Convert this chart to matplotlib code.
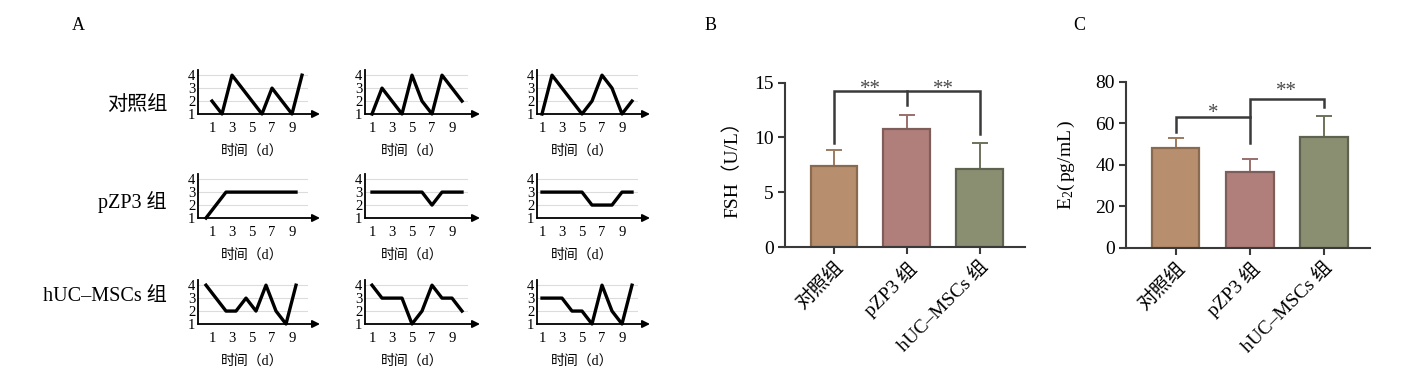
"""
Estrous cycle traces (A) and serum FSH / E2 bars (B, C).
"""

import numpy as np
import matplotlib
matplotlib.use("Agg")
import matplotlib.pyplot as plt
import matplotlib.transforms as mtransforms

plt.rcParams["font.family"] = ["Liberation Serif", "Noto Sans CJK SC"]
plt.rcParams["mathtext.fontset"] = "custom"
plt.rcParams["mathtext.rm"] = "Liberation Serif"
plt.rcParams["mathtext.it"] = "Liberation Serif:italic"

# ---------------------------------------------------------------------------
# Data
# ---------------------------------------------------------------------------

GROUPS = ["对照组", "pZP3 组", "hUC–MSCs 组"]

# cycle stage per day, three animals per group
CYCLE_CONTROL = [[2, 1, 4, 3, 2, 1, 3, 2, 1, 4],
                 [1, 3, 2, 1, 4, 2, 1, 4, 3, 2],
                 [1, 4, 3, 2, 1, 2, 4, 3, 1, 2]]
CYCLE_PZP3 = [[1, 2, 3, 3, 3, 3, 3, 3, 3, 3],
              [3, 3, 3, 3, 3, 3, 2, 3, 3, 3],
              [3, 3, 3, 3, 3, 2, 2, 2, 3, 3]]
CYCLE_HUC = [[4, 3, 2, 2, 3, 2, 4, 2, 1, 4],
             [4, 3, 3, 3, 1, 2, 4, 3, 3, 2],
             [3, 3, 3, 2, 2, 1, 4, 2, 1, 4]]
FIRST_DAY = [[1, 1, 1], [0.4, 1, 1], [0.4, 1, 1]]
DAY_TICKS = [1, 3, 5, 7, 9]
STAGE_TICKS = [1, 2, 3, 4]

FSH_MEAN = [7.4, 10.8, 7.1]
FSH_SD = [1.45, 1.25, 2.4]
E2_MEAN = [47.9, 36.3, 53.5]
E2_SD = [4.8, 6.3, 10.0]

# ---------------------------------------------------------------------------
# Style
# ---------------------------------------------------------------------------

FILL = ["#B78F6E", "#B07F7B", "#8B8F72"]
EDGE = ["#8A6A4E", "#7D5E5B", "#5E634F"]
ERRC = ["#9C7A5E", "#98706C", "#6D725C"]
DARK = "#3A3A3A"
STAR = "#4A4A4A"

W, H = 1421, 376
fig = plt.figure(figsize=(W / 100, H / 100), dpi=100)
fig.patch.set_facecolor("white")


def px_axes(left, top, width, height):
    return fig.add_axes([left / W, 1 - (top + height) / H, width / W, height / H])


# ---------------------------------------------------------------------------
# Panel A: small cycle traces
# ---------------------------------------------------------------------------

COL_X0 = [198, 365, 537]
COL_XMIN = [-0.4, 0.3, 0.5]
XMAX = 10.6
PX_PER_DAY = 10
ROW_BOTTOM = [114, 218, 324]
ROW_H = 44
LABEL_Y = [105, 202, 297]

for r, group in enumerate([CYCLE_CONTROL, CYCLE_PZP3, CYCLE_HUC]):
    fig.text(167 / W, 1 - LABEL_Y[r] / H, GROUPS[r], ha="right", va="center",
             fontsize=14.5)
    for c, vals in enumerate(group):
        xmin = COL_XMIN[c]
        ax = px_axes(COL_X0[c], ROW_BOTTOM[r] - ROW_H,
                     (XMAX - xmin) * PX_PER_DAY, ROW_H)
        days = FIRST_DAY[r][c] + np.arange(len(vals))
        ax.plot(days, vals, color="black", lw=2.4, clip_on=False, zorder=3)
        ax.set_xlim(xmin, XMAX)
        ax.set_ylim(1, 4.4)
        ax.set_xticks(DAY_TICKS)
        ax.set_yticks(STAGE_TICKS)
        ax.yaxis.grid(True, color="#dcdcdc", lw=0.8)
        ax.set_axisbelow(True)
        for s in ["top", "right", "bottom"]:
            ax.spines[s].set_visible(False)
        ax.spines["left"].set_linewidth(1.3)
        ax.tick_params(axis="both", length=0, labelsize=10.5)
        ax.tick_params(axis="x", pad=6)
        ax.tick_params(axis="y", pad=2)
        ax.annotate("", xy=(XMAX + 1.2, 1), xytext=(xmin, 1),
                    arrowprops=dict(arrowstyle="-|>", color="black", lw=1.3,
                                    mutation_scale=11, shrinkA=0, shrinkB=0),
                    annotation_clip=False)
        trans = mtransforms.blended_transform_factory(ax.transData, ax.transAxes)
        ax.text(5, -0.84, "时间（d）", transform=trans, ha="center", va="center",
                fontsize=10)

# ---------------------------------------------------------------------------
# Panels B and C: bars
# ---------------------------------------------------------------------------


def bar_panel(ax, means, sds, ymax, ystep, ylabel, label_x):
    x = np.arange(len(means))
    ax.bar(x, means, width=0.64, color=FILL, edgecolor=EDGE, linewidth=1.6,
           zorder=2)
    for i in range(len(means)):
        ax.errorbar(x[i], means[i], yerr=[[0], [sds[i]]], color=ERRC[i],
                    capsize=6, elinewidth=1.4, capthick=1.4, zorder=1)
    ax.set_xlim(-0.67, 2.62)
    ax.set_ylim(0, ymax)
    ax.set_yticks(np.arange(0, ymax + 1, ystep))
    ax.set_xticks(x)
    ax.set_xticklabels(GROUPS, rotation=45, ha="right", va="top",
                       rotation_mode="anchor", fontsize=14.5)
    ax.spines[["top", "right"]].set_visible(False)
    for s in ["left", "bottom"]:
        ax.spines[s].set_color(DARK)
        ax.spines[s].set_linewidth(1.5)
    ax.tick_params(direction="out", length=5, width=1.5, color=DARK,
                   labelsize=14, pad=3)
    ax.set_ylabel(ylabel, fontsize=14)
    ax.yaxis.set_label_coords(label_x, 0.5)


def bracket(ax, x1, x2, y, y1_end, y2_end):
    ax.plot([x1, x1, x2, x2], [y1_end, y, y, y2_end], color=DARK, lw=1.8,
            clip_on=False, solid_joinstyle="miter", zorder=4)


def stars(ax, x, y, text):
    ax.text(x, y, text, ha="center", va="baseline", fontsize=15, color=STAR,
            clip_on=False)


axB = px_axes(785, 82.7, 240, 164.3)
bar_panel(axB, FSH_MEAN, FSH_SD, 15, 5, "FSH（U/L）", -0.18)
bracket(axB, 0, 2, 14.2, 9.5, 10.3)
axB.plot([1, 1], [14.2, 13.0], color=DARK, lw=1.8, clip_on=False)
stars(axB, 0.5, 14.0, "**")
stars(axB, 1.5, 14.0, "**")

axC = px_axes(1126, 81.7, 244, 166)
bar_panel(axC, E2_MEAN, E2_SD, 80, 20, r"$\mathrm{E_2(\,pg/mL\,)}$", -0.2)
bracket(axC, 0, 1, 62.8, 55.9, 50.3)
bracket(axC, 1, 2, 71.7, 62.8, 68.0)
stars(axC, 0.5, 62.7, "*")
stars(axC, 1.5, 73.3, "**")

for lab, xp in [("A", 78), ("B", 711), ("C", 1079)]:
    fig.text(xp / W, 1 - 25 / H, lab, ha="center", va="center", fontsize=13)

fig.savefig("out.png", dpi=100, facecolor="white")
